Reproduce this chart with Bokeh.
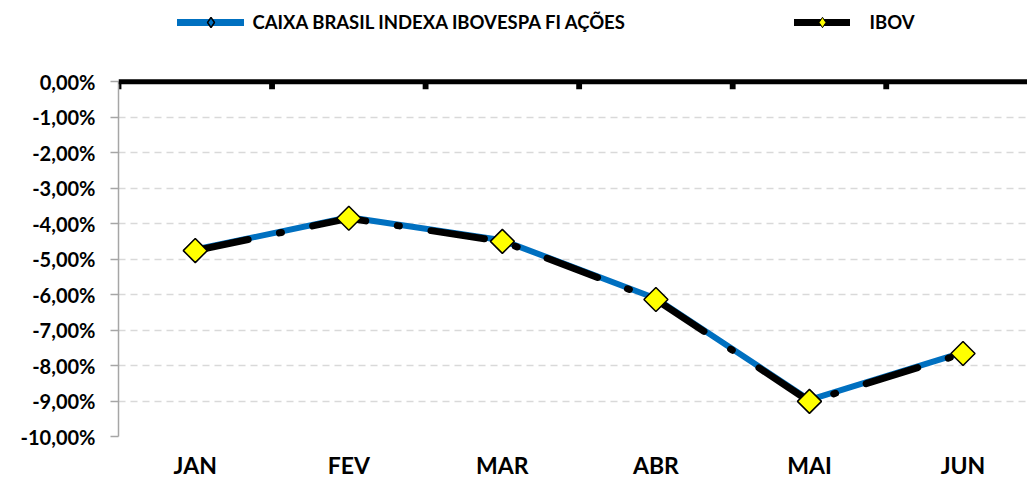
import math
from bokeh.plotting import figure
from bokeh.models import (Range1d, FixedTicker, Legend, LegendItem,
                          ColumnDataSource, Span)
from bokeh.embed import file_html
from bokeh.resources import INLINE

# ---------------- data ----------------
months = ["JAN", "FEV", "MAR", "ABR", "MAI", "JUN"]
fund = [-4.73, -3.82, -4.47, -6.11, -8.97, -7.63]
ibov = [-4.76, -3.85, -4.50, -6.14, -9.01, -7.66]
series_names = ["CAIXA BRASIL INDEXA IBOVESPA FI AÇÕES", "IBOV"]
y_ticks = [0, -1, -2, -3, -4, -5, -6, -7, -8, -9, -10]
y_labels = ["0,00%", "-1,00%", "-2,00%", "-3,00%", "-4,00%", "-5,00%",
            "-6,00%", "-7,00%", "-8,00%", "-9,00%", "-10,00%"]

FONT = "Lato"
BLUE = "#0070C0"
YELLOW = "#FFFF00"

x_idx = list(range(len(months)))
bounds_x = [i - 0.5 for i in x_idx]          # category boundaries
src = ColumnDataSource(dict(x=x_idx, fund=fund, ibov=ibov))
ymin, ymax = min(y_ticks), max(y_ticks)

p = figure(width=1027, height=481, output_backend="svg", toolbar_location=None,
           x_range=Range1d(-0.5, 5.42), y_range=Range1d(ymin, 2.29),
           x_axis_location="below", y_axis_location="left",
           min_border_left=118, min_border_right=0,
           min_border_top=0, min_border_bottom=44)
p.outline_line_color = None
p.background_fill_color = "white"
p.border_fill_color = "white"

# bottom axis: category labels only
xa = p.xaxis[0]
xa.ticker = FixedTicker(ticks=x_idx)
xa.major_label_overrides = {i: m for i, m in zip(x_idx, months)}
xa.axis_line_color = None
xa.major_tick_line_color = None
xa.minor_tick_line_color = None
xa.major_label_standoff = 8
xa.major_label_text_font = FONT
xa.major_label_text_font_style = "bold"
xa.major_label_text_font_size = "23px"
xa.major_label_text_color = "black"
p.xgrid.visible = False

# left axis
ya = p.yaxis[0]
ya.ticker = FixedTicker(ticks=y_ticks)
ya.bounds = (ymin, ymax)
ya.major_label_overrides = {t: l for t, l in zip(y_ticks, y_labels)}
ya.axis_line_color = "#a6a6a6"
ya.axis_line_width = 1.5
ya.major_tick_in = 0
ya.major_tick_out = 8
ya.major_tick_line_color = "#a6a6a6"
ya.major_tick_line_width = 1.5
ya.minor_tick_line_color = None
ya.major_label_standoff = 15
ya.major_label_text_font = FONT
ya.major_label_text_font_style = "bold"
ya.major_label_text_font_size = "20px"
ya.major_label_text_color = "black"

p.ygrid.grid_line_color = "#d9d9d9"
p.ygrid.grid_line_width = 1.5
p.ygrid.grid_line_dash = "7 5"

# thick black category axis at 0 % with boundary ticks
p.add_layout(Span(location=ymax, dimension="width", line_color="black", line_width=5))
p.vbar(x=bounds_x, top=ymax, bottom=ymax - 0.21, width=0.038,
       fill_color="black", line_color=None)

# series
p.line("x", "fund", source=src, line_color=BLUE, line_width=6, line_join="round")
p.scatter("x", "fund", source=src, marker="square", angle=math.pi / 4, size=8,
          fill_color=BLUE, line_color="black", line_width=1.5)
p.line("x", "ibov", source=src, line_color="black", line_width=7,
       line_dash="54 32 2 32", line_cap="round", line_join="round")
p.scatter("x", "ibov", source=src, marker="square", angle=math.pi / 4, size=17,
          fill_color=YELLOW, line_color="black", line_width=1.5)

# legend glyphs (renderers with no drawable point; solid lines as in the reference legend)
nan = float("nan")
dummy = ColumnDataSource(dict(x=[nan], y=[nan]))
lf_line = p.line("x", "y", source=dummy, line_color=BLUE, line_width=7, line_cap="round")
lf_mark = p.scatter("x", "y", source=dummy, marker="diamond",
                    fill_color=BLUE, line_color="black", line_width=1.5)
li_line = p.line("x", "y", source=dummy, line_color="black", line_width=7, line_cap="round")
li_mark = p.scatter("x", "y", source=dummy, marker="diamond",
                    fill_color=YELLOW, line_color="black", line_width=1)

common = dict(orientation="horizontal", glyph_height=26, padding=0, margin=0,
              spacing=0, border_line_color=None, background_fill_alpha=0,
              label_text_font=FONT, label_text_font_style="bold",
              label_text_font_size="18.5px", label_text_color="black")
leg1 = Legend(items=[LegendItem(label=series_names[0], renderers=[lf_line, lf_mark])],
              location=(58.5, 401), glyph_width=67, label_standoff=9, **common)
leg2 = Legend(items=[LegendItem(label=series_names[1], renderers=[li_line, li_mark])],
              location=(675.5, 401), glyph_width=56, label_standoff=20, **common)
p.add_layout(leg1, "center")
p.add_layout(leg2, "center")

open("out.html", "w").write(file_html(p, INLINE))
